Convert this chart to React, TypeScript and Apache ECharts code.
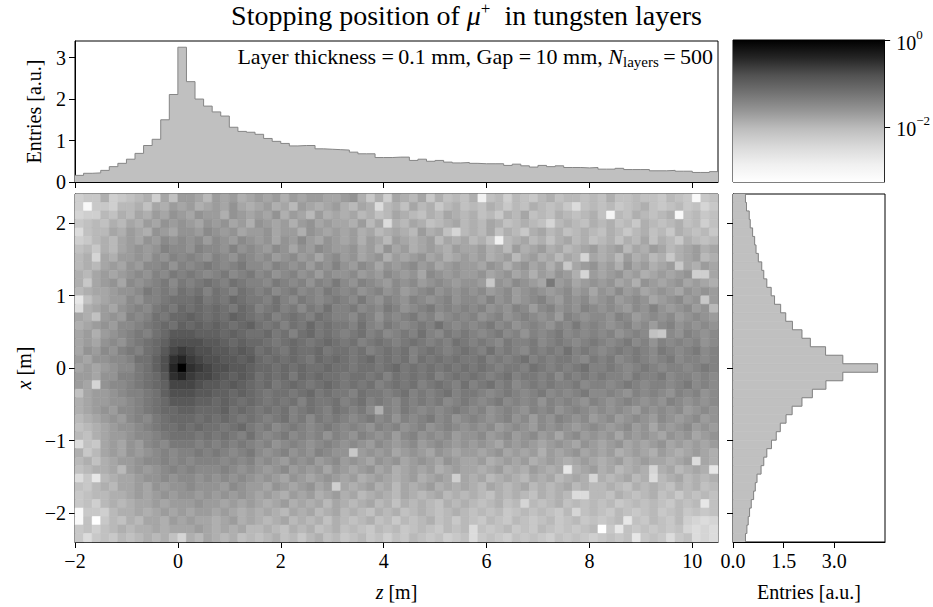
import { useEffect, useRef } from 'react';
import * as echarts from 'echarts';

const FONT = '"Liberation Serif", "Times New Roman", serif';

// binning of the stopping-position histograms
const Z_RANGE = [-2, 10.5];
const X_RANGE = [-2.4, 2.4];
const Z_BINS = 75;
const X_BINS = 41;

// projection on z (entries per bin, from z = -2 to z = 10.5)
const zCounts = [
  0.16, 0.21, 0.22, 0.28, 0.37, 0.45, 0.55, 0.69, 0.88, 1.03,
  1.5, 2.11, 3.25, 2.42, 2.0, 1.83, 1.69, 1.59, 1.32, 1.22,
  1.2, 1.15, 1.05, 0.98, 0.93, 0.87, 0.88, 0.88, 0.8, 0.79,
  0.78, 0.77, 0.72, 0.68, 0.68, 0.59, 0.59, 0.6, 0.6, 0.52,
  0.55, 0.5, 0.52, 0.48, 0.46, 0.47, 0.45, 0.44, 0.44, 0.44,
  0.4, 0.43, 0.39, 0.36, 0.4, 0.37, 0.39, 0.35, 0.35, 0.34,
  0.35, 0.31, 0.31, 0.33, 0.3, 0.3, 0.3, 0.27, 0.27, 0.28,
  0.26, 0.26, 0.23, 0.23, 0.25,
];

// projection on x (entries per bin, from x = -2.4 up to x = +2.4)
const xCounts = [
  0.37, 0.41, 0.45, 0.49, 0.54, 0.61, 0.66, 0.71, 0.83, 0.91,
  1.0, 1.14, 1.28, 1.4, 1.57, 1.75, 2.04, 2.35, 2.75, 3.25,
  4.28,
  3.25, 2.74, 2.29, 2.04, 1.76, 1.56, 1.41, 1.23, 1.13, 1.0,
  0.91, 0.85, 0.75, 0.68, 0.64, 0.58, 0.51, 0.48, 0.4, 0.37,
];

// 2D histogram: each character is -10*log10(normalised entries) written in base 36.
// Rows run from x = +2.4 (first) down to x = -2.4, columns from z = -2 to z = 10.5.
// Blanks only group the columns for readability.
const cellLevels = [
  'nmm jnm lkj nil h hik hihji hihjhihhii hgjmjnijkimjlkl jtlknklmkjlkklk ljllkllmklmvml',
  'nvm mnk kjl ijh i hji higij ihjikhijih jkijpkjlikjmkjl kljkmkljklkmplk lkmlkjlmlkmlom',
  'onn klj kij hig h igh hjghi higjhikhji jikjlkijkljkijk jlkmjkilkljklkj lukljklkjvlkml',
  'mlk ljk ijh igh g hig hgihj ghihjhgihi ijhkipjkijlkjik jkijlkjklokjklj kjlkmjklkjlknl',
  'plk kij hij ghi g ghf ghgih hgihhjghih ihjikjijkhjilok jkiljkmjikjlkjk ljkmkjlkmjklkm',
  'nmk jki hig hfg f gfh fghfg hgighfhigh ihjhikhijihkiji kjltkjikjljikjl kjljkiljkmjklk',
  'lkm jki hgh gef f gef fgegf ghfgighfgh hgihjgihjihijhi ihjikhjihjikjih jihkijhikjihji',
  'kjo ijh hgh fge f efg efgef gfhgfhgigf hgihgjhihgihjih ihjihkihjikijoi jikhjikjmjihkj',
  'kjk ihi ghf feg e fed efedf fgefgfhfge ghfgighgfhgihgh highjhgihjhmihg ihjgihjihmijhi',
  'jki hih gfg efd e def edfed fegfegfhfg gfhghfghgifghgh hgihgihjhighjoh ihgihjihihgnni',
  'jmi hgi fgf edf d edc decde efdefegefd fgefghfgfhgfghg ghmghfghidhgihg hgihjghihgihij',
  'kji ihg gfd ede c dce cdecd edfedfefde fegfegfhgfegfgf gfhgfhgfghgfhgi ghfhgihghighgh',
  'rlj ihh fge edc c cbd cdbcd decefdefed efdfgefgefgfegf fgegfhgfeghfgfh gfhgfgihgfhgmh',
  'pji hig fef dcd b cbc bcdbc edcedfdece edfefdegfedfefe fegfgefhfegfgef gfghfgeghgfhgk',
  'ijl hgh efe cdb b abc bcabc dcedcdecde efdegefedfegfef egfegfefgfhefgf fgefhgfgfhgfgh',
  'jih ghf fed cbc a bab abcba cdcecdbdcd decefdefedecefe fedfegfefgefdfe fgfegfhfegfgfg',
  'ihj hgf ede cb9 9 9aa ababc cbdcecbdcd edcedfedecefded efedfegefedfefe fegfeflmfgefgf',
  'ihi gfg edc ba8 8 889 9abab bcdcbcdcbc dcedcdedcdedecd edefdeedfedefed efedfegefefegf',
  'igh fge dec b97 6 788 99a9a cbcdbccbdc cdcedcdcedcdedc decedefdedecede fededefdefedfe',
  'hig gff ecc a85 4 678 899a9 bcbcbcdbcb cdcbdcdcecdcdcd dcededcededdefd edfedefedfeefe',
  'ihi hgf fdc a84 0 567 8899a bbcbcbccbc cdccdcbdcdcdcdc dcdeddecdededce edefedefeefede',
  'hhi gge edc b95 4 677 89a9a cbcbdbcbcc dccdcecdcdcedcd cdedceddedfdede deefdeedfeefef',
  'hio gff edc ba7 7 789 9a9ab cbdcbcdcbc dcdcedcdcedcdec edcedfededeedfe efedefeefedfef',
  'lih hgf eed ca8 8 899 aabab cdccdcbdcd decddedcededced defedefedfefedf fefgefefgefegf',
  'jih hgg fed cb9 9 9aa babcb cdcdcecddc edcedefdededfed efedfefegefefge fgfefgfgefgfgf',
  'jih ghf fed cbb a abb bacbc dcdcedcdec dedfjefdefefede fegfefgefegfefg fgfghfgfgfhgfg',
  'kji hgh fef dcb b bcb cbcdc dedcedfded efedfegefedfegf efgfegfhfgefgfh gfhgfghfghgfhg',
  'lkj ihg gfe dcc b cbc cdcbd edfedefede fefgefegfegfefg fgfhgfghfgfghgf ghgfhgighgfhgh',
  'klj ihh gff edc c cdc dcdec efedfefege fgefgfhfegfgfhg gfhgfhgfhgigfhg hgighghighgihg',
  'plm ihi ghf efd d ded edede fegfefgfef gfghfghgfhgfghg hghighghihghigh ihgihihgihihih',
  'jmk ihi ghg fef e ede defed fgfegfgefg gmhghgihghighih hihgihihjhihgih ihjihijhijihij',
  'kjl jih hgf fef e fee efefe gfghfgfhgf hghighgihghighi ihjihihjihijihi jihjihiijihpij',
  'lkj jik hgh gfe f eff fefgf ghgfhghgig hihgihjihihjihi ijihjijhijirjih jikjijojikjijr',
  'pmr kji ihg gfg f fgf gfgfg hghighihgh ihjihijihjihini jikjijkijikjijo jkjikjpkjikjkj',
  'lmk jki ihi ghg g fgg ghfgh highihgihn ijihjikijihjiji jkijkjikjkjikjk kjkljkjkljkjlk',
  'mlk kjj ihi hgh g ghg hghgh ihijhihjih jikjijkijkjikjk jkljkjkljkjkppk kljklkjlkmklkl',
  'mln kjk jii hih h hgh hihih ijihjijiki jkjikjljkjkljkj klkjlkoklkjlklk lkmlklklmklkrl',
  'vmm nkj jij ihi h ihh ihiji jijkijikji kjkljkjlkjklkjk lklkmlklklmkolk lmklmlkmlkmlml',
  'vlx mkl jki ijh i hii jihji jkjikjkjlj klkjlkmklkjlkmk lmklmklmlkmlkml mlkrlmklmknopo',
  'mln lkj kjj iji i ihi jijik kjkljkjlkj lklmklkmlklmklk plmlkmlmklmlmlk xmrlmlmlmlopop',
  'mpm lmk lkj kjl o jki jkjlk lkjlkmkjlk mlkmlnlmklmlnml pmlmnlmlmnlmlmn mlmlrmlmpmlpop',
];

// ticks
const zTicks = [-2, 0, 2, 4, 6, 8, 10];
const xTicks = [-2, -1, 0, 1, 2];
const zEntryTicks = [0, 1, 2, 3];
const xEntryTicks = [0, 1.5, 3];
const colorDecadeTicks = [-2, 0];

// axis extents
const Z_ENTRY_MAX = 3.4;
const X_ENTRY_MAX = 4.5;
const COLOR_LOG_RANGE = [-3.27, 0];

// matplotlib "Greys"
const GREYS = ['#ffffff', '#f0f0f0', '#d9d9d9', '#bdbdbd', '#969696', '#737373', '#525252', '#252525', '#000000'];
const HIST_FILL = '#c0c0c0';
const HIST_EDGE = '#858585';

const signed = (v: number, digits = 0) => {
  const s = Math.abs(v).toFixed(digits);
  return v < 0 ? '\u2212' + s : s;
};

export default function App() {
  const ref = useRef<HTMLDivElement>(null);

  useEffect(() => {
    if (!ref.current) return;
    const chart = echarts.init(ref.current, null, { renderer: 'svg' });

    const zW = (Z_RANGE[1] - Z_RANGE[0]) / Z_BINS;
    const xW = (X_RANGE[1] - X_RANGE[0]) / X_BINS;

    const cells: number[][] = [];
    cellLevels.forEach((row, r) => {
      const chars = row.replace(/\s+/g, '');
      for (let c = 0; c < chars.length; c++) {
        const level = parseInt(chars[c], 36);
        cells.push([Z_RANGE[0] + (c + 0.5) * zW, X_RANGE[1] - (r + 0.5) * xW, -level / 10]);
      }
    });

    const zStep: number[][] = zCounts.map((v, i) => [Z_RANGE[0] + i * zW, v]);
    zStep.push([Z_RANGE[1], zCounts[zCounts.length - 1]]);

    const xBars = xCounts.map((v, i) => [v, X_RANGE[0] + (i + 0.5) * xW]);
    const xOutline: number[][] = [];
    xCounts.forEach((v, i) => {
      xOutline.push([v, X_RANGE[0] + i * xW]);
      xOutline.push([v, X_RANGE[0] + (i + 1) * xW]);
    });

    const line = { show: true, onZero: false, lineStyle: { color: '#000', width: 1 } };
    const tick = (values: number[]) => ({
      show: true, inside: false, length: 6, customValues: values,
      lineStyle: { color: '#000', width: 1 },
    });
    const label = (values: number[], fmt: (v: number) => string) => ({
      show: true, customValues: values, formatter: fmt, color: '#000',
      fontFamily: FONT, fontSize: 20, margin: 9,
    });
    const nameStyle = {
      color: '#000', fontFamily: FONT, fontSize: 20,
      rich: { i: { fontStyle: 'italic', fontFamily: FONT, fontSize: 20, color: '#000' } },
    };
    const frame = { show: true, borderColor: '#000', borderWidth: 1, backgroundColor: 'transparent' };

    const colorStops = GREYS.map((_, i) => ({ offset: i / (GREYS.length - 1), color: GREYS[GREYS.length - 1 - i] }));

    chart.setOption({
      animation: false,
      title: {
        text: '{t|Stopping position of }{m|\u03bc}{p|+}{t|  in tungsten layers}',
        left: 'center',
        top: 0,
        padding: 0,
        textStyle: {
          fontFamily: FONT, fontSize: 28, fontWeight: 'normal', color: '#000',
          rich: {
            t: { fontFamily: FONT, fontSize: 28, color: '#000', verticalAlign: 'bottom', lineHeight: 29 },
            m: { fontFamily: FONT, fontSize: 28, fontStyle: 'italic', color: '#000', verticalAlign: 'bottom', lineHeight: 29 },
            p: { fontFamily: FONT, fontSize: 17, color: '#000', verticalAlign: 'top', lineHeight: 17 },
          },
        },
      },
      grid: [
        { left: 75, top: 41, width: 643, height: 141, ...frame },
        { left: 75, top: 194, width: 643, height: 352, ...frame },
        { left: 733, top: 194, width: 152, height: 352, ...frame },
        { left: 733, top: 40, width: 152, height: 142, ...frame },
      ],
      xAxis: [
        {
          gridIndex: 0, type: 'value', min: Z_RANGE[0], max: Z_RANGE[1],
          axisLine: line, axisTick: tick(zTicks), axisLabel: { show: false }, splitLine: { show: false },
        },
        {
          gridIndex: 1, type: 'value', min: Z_RANGE[0], max: Z_RANGE[1],
          axisLine: line, axisTick: tick(zTicks), axisLabel: label(zTicks, (v) => signed(v)),
          splitLine: { show: false },
          name: '{i|z} [m]', nameLocation: 'middle', nameGap: 40, nameTextStyle: nameStyle,
        },
        {
          gridIndex: 2, type: 'value', min: 0, max: X_ENTRY_MAX,
          axisLine: line, axisTick: tick(xEntryTicks), axisLabel: label(xEntryTicks, (v) => v.toFixed(1)),
          splitLine: { show: false },
          name: 'Entries [a.u.]', nameLocation: 'middle', nameGap: 40, nameTextStyle: nameStyle,
        },
        { gridIndex: 3, type: 'value', min: 0, max: 1, show: false },
      ],
      yAxis: [
        {
          gridIndex: 0, type: 'value', min: 0, max: Z_ENTRY_MAX,
          axisLine: line, axisTick: tick(zEntryTicks), axisLabel: label(zEntryTicks, (v) => signed(v)),
          splitLine: { show: false },
          name: 'Entries [a.u.]', nameLocation: 'middle', nameGap: 31, nameRotate: 90, nameTextStyle: nameStyle,
        },
        {
          gridIndex: 1, type: 'value', min: X_RANGE[0], max: X_RANGE[1],
          axisLine: line, axisTick: tick(xTicks), axisLabel: label(xTicks, (v) => signed(v)),
          splitLine: { show: false },
          name: '{i|x} [m]', nameLocation: 'middle', nameGap: 37, nameRotate: 90, nameTextStyle: nameStyle,
        },
        {
          gridIndex: 2, type: 'value', min: X_RANGE[0], max: X_RANGE[1],
          axisLine: line, axisTick: tick(xTicks), axisLabel: { show: false }, splitLine: { show: false },
        },
        {
          gridIndex: 3, type: 'value', position: 'right', min: COLOR_LOG_RANGE[0], max: COLOR_LOG_RANGE[1],
          axisLine: line, axisTick: tick(colorDecadeTicks), splitLine: { show: false },
          axisLabel: {
            show: true, customValues: colorDecadeTicks, margin: 12, color: '#000',
            formatter: (v: number) => `{b|10}{e|${signed(v)}}`,
            rich: {
              b: { fontFamily: FONT, fontSize: 20, color: '#000', verticalAlign: 'bottom', lineHeight: 25 },
              e: { fontFamily: FONT, fontSize: 13, color: '#000', verticalAlign: 'top', lineHeight: 13 },
            },
          },
        },
      ],
      visualMap: {
        show: false, type: 'continuous', seriesIndex: 0, dimension: 2,
        min: COLOR_LOG_RANGE[0], max: COLOR_LOG_RANGE[1],
        inRange: { color: GREYS },
      },
      graphic: [
        {
          type: 'text', x: 713, y: 57, silent: true,
          style: {
            text: '{t|Layer thickness =\u20090.1 mm, Gap =\u200910 mm, }{n|N}{s|layers}{t|\u2009=\u2009500}',
            align: 'right', verticalAlign: 'middle', fill: '#000',
            rich: {
              t: { fontFamily: FONT, fontSize: 22, fill: '#000', verticalAlign: 'top', lineHeight: 22 },
              n: { fontFamily: FONT, fontSize: 22, fontStyle: 'italic', fill: '#000', verticalAlign: 'top', lineHeight: 22 },
              s: { fontFamily: FONT, fontSize: 15, fill: '#000', verticalAlign: 'bottom', lineHeight: 24 },
            },
          },
        },
      ],
      series: [
        {
          type: 'custom', name: 'stopping density', xAxisIndex: 1, yAxisIndex: 1,
          data: cells, encode: { x: 0, y: 1 }, clip: true, silent: true,
          renderItem: (_p: any, api: any) => {
            const zc = api.value(0);
            const xc = api.value(1);
            const a = api.coord([zc - zW / 2, xc + xW / 2]);
            const b = api.coord([zc + zW / 2, xc - xW / 2]);
            const color = api.visual('color');
            return {
              type: 'rect',
              shape: { x: a[0], y: a[1], width: b[0] - a[0], height: b[1] - a[1] },
              style: { fill: color, stroke: color, lineWidth: 0.6 },
            };
          },
        },
        {
          type: 'line', name: 'z projection', xAxisIndex: 0, yAxisIndex: 0,
          data: zStep, step: 'end', showSymbol: false, symbol: 'none', silent: true,
          lineStyle: { color: HIST_EDGE, width: 1 },
          areaStyle: { color: HIST_FILL, opacity: 1 },
        },
        {
          type: 'custom', name: 'x projection fill', xAxisIndex: 2, yAxisIndex: 2,
          data: xBars, encode: { x: 0, y: 1 }, clip: true, silent: true,
          renderItem: (_p: any, api: any) => {
            const v = api.value(0);
            const xc = api.value(1);
            const a = api.coord([0, xc + xW / 2]);
            const b = api.coord([v, xc - xW / 2]);
            return {
              type: 'rect',
              shape: { x: a[0], y: a[1], width: b[0] - a[0], height: b[1] - a[1] },
              style: { fill: HIST_FILL, stroke: HIST_FILL, lineWidth: 0.6 },
            };
          },
        },
        {
          type: 'line', name: 'x projection edge', xAxisIndex: 2, yAxisIndex: 2,
          data: xOutline, showSymbol: false, symbol: 'none', silent: true,
          lineStyle: { color: HIST_EDGE, width: 1 },
        },
        {
          type: 'custom', name: 'colour scale', xAxisIndex: 3, yAxisIndex: 3,
          data: [[0, 0]], silent: true,
          renderItem: (_p: any, api: any) => {
            const a = api.coord([0, COLOR_LOG_RANGE[1]]);
            const b = api.coord([1, COLOR_LOG_RANGE[0]]);
            return {
              type: 'rect',
              shape: { x: a[0], y: a[1], width: b[0] - a[0], height: b[1] - a[1] },
              style: { fill: new echarts.graphic.LinearGradient(0, 0, 0, 1, colorStops) },
            };
          },
        },
      ],
    });

    return () => chart.dispose();
  }, []);

  return (
    <div
      ref={ref}
      style={{ position: 'absolute', left: 0, top: 0, width: 933, height: 607, background: '#fff' }}
    />
  );
}
